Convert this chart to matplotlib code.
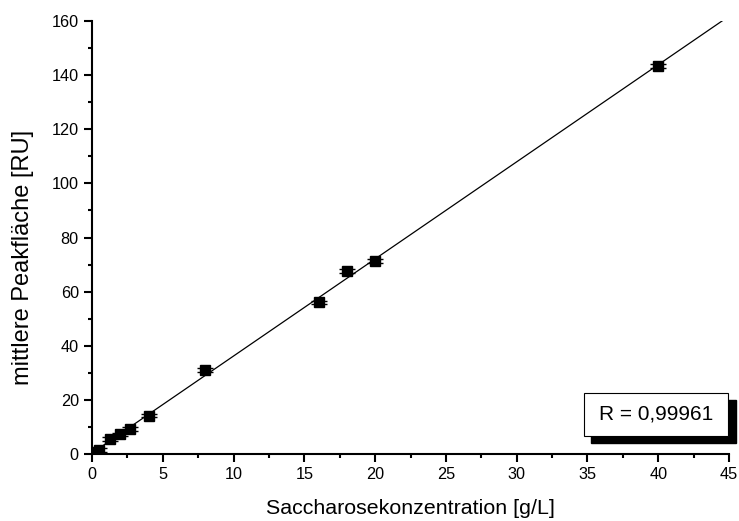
import numpy as np
import matplotlib.pyplot as plt
from matplotlib.patches import Rectangle
from matplotlib.ticker import MultipleLocator

plt.rcParams['font.family'] = ['Liberation Sans', 'DejaVu Sans']

# Messwerte
konz = [0.25, 0.5, 1.25, 2.0, 2.67, 4.0, 8.0, 16.0, 18.0, 20.0, 40.0]
flaeche = [0.8, 1.5, 5.5, 7.3, 9.2, 14.2, 31.0, 56.1, 67.6, 71.3, 143.4]
fehler = [0.6, 0.6, 0.6, 0.6, 0.6, 0.6, 0.6, 0.6, 0.6, 0.6, 0.6]
r_text = 'R = 0,99961'

fig = plt.figure(figsize=(7.39, 5.21), dpi=100)
ax = fig.add_axes([0.1245, 0.1286, 0.862, 0.831])

# Regressionsgerade
m, b = np.polyfit(konz, flaeche, 1)
xl = np.array([0, 45])
ax.plot(xl, m * xl + b, color='black', lw=0.9)

ax.errorbar(konz, flaeche, yerr=fehler, fmt='s', color='black', ms=7.3,
            ecolor='black', elinewidth=1, capsize=6, capthick=1)

ax.set_xlim(0, 45)
ax.set_ylim(0, 160)
ax.xaxis.set_major_locator(MultipleLocator(5))
ax.xaxis.set_minor_locator(MultipleLocator(2.5))
ax.yaxis.set_major_locator(MultipleLocator(20))
ax.yaxis.set_minor_locator(MultipleLocator(10))
ax.spines['top'].set_visible(False)
ax.spines['right'].set_visible(False)
for s in ['left', 'bottom']:
    ax.spines[s].set_linewidth(1.5)
ax.tick_params(which='major', direction='out', length=5.5, width=1.5,
               labelsize=11.7, pad=4)
ax.tick_params(which='minor', direction='out', length=3, width=1.5)

ax.set_xlabel('Saccharosekonzentration [g/L]', fontsize=15.4, va='center')
ax.set_ylabel('mittlere Peakfläche [RU]', fontsize=17, va='center')
ax.xaxis.set_label_coords(0.5, -0.125)
ax.yaxis.set_label_coords(-0.108, 0.455)

# Box mit Schatten
ax.add_patch(Rectangle((0.783, 0.025), 0.228, 0.1, transform=ax.transAxes,
                       facecolor='black', edgecolor='black', clip_on=False, zorder=4))
ax.add_patch(Rectangle((0.772, 0.0416), 0.227, 0.1, transform=ax.transAxes,
                       facecolor='white', edgecolor='black', lw=0.8, clip_on=False, zorder=5))
ax.text(0.8855, 0.0916, r_text, transform=ax.transAxes, ha='center', va='center',
        fontsize=15, zorder=6)

fig.savefig('out.png', dpi=100)
